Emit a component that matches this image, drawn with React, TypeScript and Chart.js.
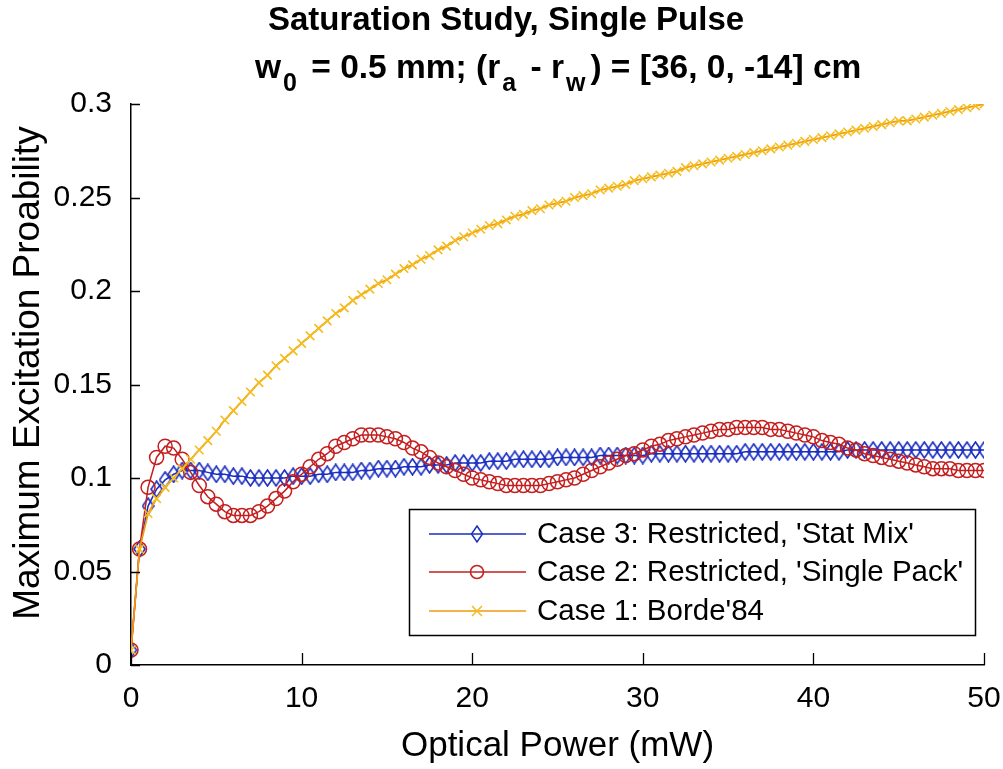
import { useEffect, useRef } from "react";
import { Chart, registerables } from "chart.js";

Chart.register(...registerables);

const FONT = '"Liberation Sans", Arial, Helvetica, sans-serif';

// Optical power (mW)
const powerMW = [
  0, 0.5, 1, 1.5, 2, 2.5, 3, 3.5, 4, 4.5,
  5, 5.5, 6, 6.5, 7, 7.5, 8, 8.5, 9, 9.5,
  10, 10.5, 11, 11.5, 12, 12.5, 13, 13.5, 14, 14.5,
  15, 15.5, 16, 16.5, 17, 17.5, 18, 18.5, 19, 19.5,
  20, 20.5, 21, 21.5, 22, 22.5, 23, 23.5, 24, 24.5,
  25, 25.5, 26, 26.5, 27, 27.5, 28, 28.5, 29, 29.5,
  30, 30.5, 31, 31.5, 32, 32.5, 33, 33.5, 34, 34.5,
  35, 35.5, 36, 36.5, 37, 37.5, 38, 38.5, 39, 39.5,
  40, 40.5, 41, 41.5, 42, 42.5, 43, 43.5, 44, 44.5,
  45, 45.5, 46, 46.5, 47, 47.5, 48, 48.5, 49, 49.5,
  50,
];

// Case 3: Restricted, 'Stat Mix'
const case3StatMix = [
  0.008, 0.062, 0.085, 0.094, 0.099, 0.102, 0.104, 0.104, 0.104, 0.103,
  0.102, 0.102, 0.101, 0.101, 0.100, 0.100, 0.100, 0.100, 0.100, 0.101,
  0.101, 0.101, 0.102, 0.102, 0.103, 0.103, 0.103, 0.104, 0.104, 0.105,
  0.105, 0.105, 0.106, 0.106, 0.106, 0.107, 0.107, 0.107, 0.108, 0.108,
  0.108, 0.108, 0.109, 0.109, 0.109, 0.110, 0.110, 0.110, 0.110, 0.110,
  0.111, 0.111, 0.111, 0.111, 0.111, 0.112, 0.112, 0.112, 0.112, 0.112,
  0.112, 0.113, 0.113, 0.113, 0.113, 0.113, 0.113, 0.113, 0.113, 0.113,
  0.113, 0.113, 0.114, 0.114, 0.114, 0.114, 0.114, 0.114, 0.114, 0.114,
  0.114, 0.114, 0.114, 0.114, 0.115, 0.115, 0.115, 0.115, 0.115, 0.115,
  0.115, 0.115, 0.115, 0.115, 0.115, 0.115, 0.115, 0.115, 0.115, 0.115,
  0.115,
];

// Case 2: Restricted, 'Single Pack'
const case2SinglePack = [
  0.008, 0.062, 0.095, 0.111, 0.117, 0.116, 0.110, 0.103, 0.096, 0.090,
  0.086, 0.082, 0.080, 0.080, 0.080, 0.082, 0.085, 0.089, 0.093, 0.098,
  0.102, 0.106, 0.110, 0.113, 0.117, 0.119, 0.121, 0.123, 0.123, 0.123,
  0.122, 0.121, 0.119, 0.116, 0.114, 0.111, 0.108, 0.106, 0.104, 0.102,
  0.100, 0.099, 0.098, 0.097, 0.096, 0.096, 0.096, 0.096, 0.096, 0.097,
  0.098, 0.099, 0.100, 0.102, 0.104, 0.106, 0.108, 0.110, 0.112, 0.113,
  0.115, 0.117, 0.118, 0.120, 0.121, 0.122, 0.123, 0.124, 0.125, 0.126,
  0.126, 0.127, 0.127, 0.127, 0.127, 0.126, 0.126, 0.125, 0.124, 0.123,
  0.122, 0.120, 0.119, 0.118, 0.116, 0.115, 0.113, 0.112, 0.111, 0.110,
  0.109, 0.108, 0.107, 0.106, 0.105, 0.105, 0.105, 0.104, 0.104, 0.104,
  0.104,
];

// Case 1: Borde'84
const case1Borde84 = [
  0.008, 0.062, 0.081, 0.089, 0.095, 0.100, 0.105, 0.110, 0.115, 0.120,
  0.125, 0.131, 0.136, 0.141, 0.146, 0.151, 0.155, 0.160, 0.164, 0.168,
  0.172, 0.176, 0.180, 0.184, 0.188, 0.191, 0.195, 0.198, 0.201, 0.204,
  0.206, 0.209, 0.212, 0.214, 0.217, 0.219, 0.222, 0.224, 0.227, 0.229,
  0.231, 0.233, 0.235, 0.236, 0.238, 0.240, 0.241, 0.243, 0.244, 0.246,
  0.247, 0.248, 0.250, 0.251, 0.252, 0.254, 0.255, 0.256, 0.257, 0.259,
  0.260, 0.261, 0.262, 0.263, 0.264, 0.266, 0.267, 0.268, 0.269, 0.270,
  0.271, 0.272, 0.273, 0.274, 0.275, 0.276, 0.277, 0.278, 0.279, 0.280,
  0.281, 0.282, 0.283, 0.284, 0.285, 0.286, 0.287, 0.288, 0.289, 0.290,
  0.291, 0.291, 0.292, 0.293, 0.294, 0.295, 0.296, 0.297, 0.298, 0.299,
  0.300,
];

const xTickValues = [0, 10, 20, 30, 40, 50];
const yTickValues = [0, 0.05, 0.1, 0.15, 0.2, 0.25, 0.3];

const seriesLabels = [
  "Case 3: Restricted, 'Stat Mix'",
  "Case 2: Restricted, 'Single Pack'",
  "Case 1: Borde'84",
];

const BLUE = "#1A2EC0";
const RED = "#C41E1E";
const ORANGE_LINE = "#F29A10";
const ORANGE_MARK = "#F4BC1C";

function makeDiamond(color: string) {
  const c = document.createElement("canvas");
  c.width = 13;
  c.height = 18;
  const g = c.getContext("2d")!;
  g.strokeStyle = color;
  g.lineWidth = 1.6;
  g.beginPath();
  g.moveTo(6.5, 1);
  g.lineTo(12, 9);
  g.lineTo(6.5, 17);
  g.lineTo(1, 9);
  g.closePath();
  g.stroke();
  return c;
}

function toPoints(ys: number[]) {
  return powerMW.map((x, i) => ({ x, y: ys[i] }));
}

const decorPlugin = {
  id: "decor",
  afterDraw(chart: any) {
    const { ctx, chartArea, scales } = chart;
    const xs = scales.x;
    const ys = scales.y;
    ctx.save();

    // inward tick marks
    ctx.strokeStyle = "#000";
    ctx.lineWidth = 1.3;
    ctx.beginPath();
    for (const v of xTickValues) {
      const px = Math.round(xs.getPixelForValue(v)) + 0.5;
      ctx.moveTo(px, chartArea.bottom);
      ctx.lineTo(px, chartArea.bottom - 12);
    }
    for (const v of yTickValues) {
      const py = Math.round(ys.getPixelForValue(v)) + 0.5;
      ctx.moveTo(chartArea.left, py);
      ctx.lineTo(chartArea.left + 9, py);
    }
    ctx.stroke();

    // title
    ctx.fillStyle = "#000";
    ctx.textBaseline = "alphabetic";
    ctx.textAlign = "left";
    ctx.font = `bold 33px ${FONT}`;
    ctx.fillText("Saturation Study, Single Pulse", 268, 30);

    const big = `bold 33.5px ${FONT}`;
    const small = `bold 25px ${FONT}`;
    const segs: { t: string; sub?: boolean }[] = [
      { t: "w" },
      { t: "0", sub: true },
      { t: " = 0.5 mm; (r" },
      { t: "a", sub: true },
      { t: " - r" },
      { t: "w", sub: true },
      { t: ") = [36, 0, -14] cm" },
    ];
    let cx = 255;
    for (const s of segs) {
      ctx.font = s.sub ? small : big;
      ctx.fillText(s.t, cx + (s.sub ? 2 : 0), s.sub ? 91 : 78);
      cx += ctx.measureText(s.t).width + (s.sub ? 7 : 0);
    }

    // axis titles
    ctx.font = `35px ${FONT}`;
    ctx.textAlign = "center";
    ctx.textBaseline = "middle";
    ctx.fillText("Optical Power (mW)", (chartArea.left + chartArea.right) / 2, 746);
    ctx.save();
    ctx.font = `37px ${FONT}`;
    ctx.translate(29, 373);
    ctx.rotate(-Math.PI / 2);
    ctx.fillText("Maximum Excitation Proability", 0, 0);
    ctx.restore();

    // legend
    const bx = 409.5, by = 509.5, bw = 566, bh = 126;
    ctx.fillStyle = "#fff";
    ctx.fillRect(bx, by, bw, bh);
    ctx.strokeStyle = "#000";
    ctx.lineWidth = 1.5;
    ctx.strokeRect(bx, by, bw, bh);
    const rows = [534, 572, 611];
    const colors = [BLUE, RED, ORANGE_LINE];
    ctx.font = `29.5px ${FONT}`;
    ctx.textAlign = "left";
    ctx.textBaseline = "middle";
    rows.forEach((ry, i) => {
      ctx.strokeStyle = colors[i];
      ctx.lineWidth = 1.5;
      ctx.beginPath();
      ctx.moveTo(429, ry);
      ctx.lineTo(526, ry);
      ctx.stroke();
      const mx = 477;
      ctx.lineWidth = 1.5;
      if (i === 0) {
        ctx.beginPath();
        ctx.moveTo(mx, ry - 8);
        ctx.lineTo(mx + 5.5, ry);
        ctx.lineTo(mx, ry + 8);
        ctx.lineTo(mx - 5.5, ry);
        ctx.closePath();
        ctx.stroke();
      } else if (i === 1) {
        ctx.beginPath();
        ctx.arc(mx, ry, 6.5, 0, Math.PI * 2);
        ctx.stroke();
      } else {
        ctx.strokeStyle = ORANGE_MARK;
        ctx.beginPath();
        ctx.moveTo(mx - 5, ry - 5);
        ctx.lineTo(mx + 5, ry + 5);
        ctx.moveTo(mx + 5, ry - 5);
        ctx.lineTo(mx - 5, ry + 5);
        ctx.stroke();
      }
      ctx.fillStyle = "#000";
      ctx.fillText(seriesLabels[i], 537, ry + 1);
    });

    ctx.restore();
  },
};

export default function App() {
  const ref = useRef<HTMLCanvasElement>(null);

  useEffect(() => {
    document.body.style.margin = "0";
    const diamond = makeDiamond(BLUE);
    const chart = new Chart(ref.current!, {
      type: "line",
      data: {
        datasets: [
          {
            label: seriesLabels[0],
            data: toPoints(case3StatMix),
            borderColor: BLUE,
            borderWidth: 1.5,
            pointStyle: diamond as any,
            pointRadius: 6,
            pointBorderColor: BLUE,
            pointBackgroundColor: "rgba(0,0,0,0)",
            tension: 0,
            order: 3,
          },
          {
            label: seriesLabels[1],
            data: toPoints(case2SinglePack),
            borderColor: RED,
            borderWidth: 1.5,
            pointStyle: "circle",
            pointRadius: 7,
            pointBorderWidth: 1.5,
            pointBorderColor: RED,
            pointBackgroundColor: "rgba(0,0,0,0)",
            tension: 0,
            order: 2,
          },
          {
            label: seriesLabels[2],
            data: toPoints(case1Borde84),
            borderColor: ORANGE_LINE,
            borderWidth: 1.8,
            pointStyle: "crossRot",
            pointRadius: 6,
            pointBorderWidth: 1.6,
            pointBorderColor: ORANGE_MARK,
            pointBackgroundColor: ORANGE_MARK,
            tension: 0,
            order: 1,
          },
        ],
      },
      options: {
        responsive: false,
        animation: false,
        layout: { padding: { left: 0, right: 19, top: 104, bottom: 0 } },
        plugins: {
          legend: { display: false },
          title: { display: false },
          tooltip: { enabled: false },
        },
        scales: {
          x: {
            type: "linear",
            min: 0,
            max: 50,
            ticks: {
              stepSize: 10,
              color: "#000",
              font: { size: 30, family: FONT },
              padding: 16,
              maxRotation: 0,
            },
            grid: { display: false, drawTicks: false },
            border: { display: true, color: "#000", width: 1.5 },
            afterFit: (s: any) => {
              s.height = 104;
              s.paddingLeft = 0;
              s.paddingRight = 0;
            },
          },
          y: {
            type: "linear",
            min: 0,
            max: 0.3,
            ticks: {
              stepSize: 0.05,
              color: "#000",
              font: { size: 30, family: FONT },
              padding: 19,
              callback: (v: any) => String(Number(Number(v).toFixed(2))),
            },
            grid: { display: false, drawTicks: false },
            border: { display: true, color: "#000", width: 1.5 },
            afterFit: (s: any) => {
              s.width = 131;
              s.paddingTop = 0;
              s.paddingBottom = 0;
            },
          },
        },
      },
      plugins: [decorPlugin],
    } as any);
    return () => chart.destroy();
  }, []);

  return (
    <div style={{ position: "fixed", left: 0, top: 0, width: 1003, height: 769, background: "#fff" }}>
      <canvas ref={ref} width={1003} height={769} style={{ display: "block" }} />
    </div>
  );
}
